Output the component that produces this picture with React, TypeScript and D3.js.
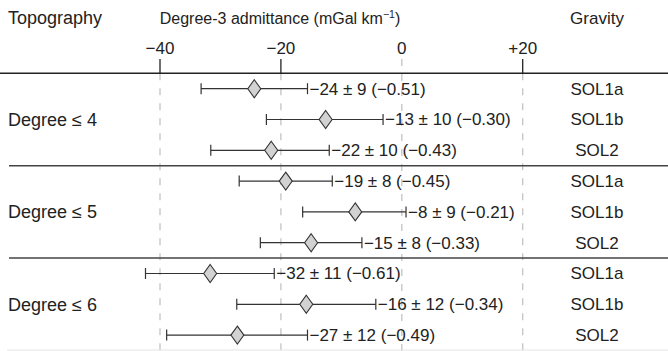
import React from 'react';
import * as d3 from 'd3';

// topography truncation groups and gravity solutions
const groups = ['Degree \u2264 4', 'Degree \u2264 5', 'Degree \u2264 6'];
const solutions = ['SOL1a', 'SOL1b', 'SOL2'];

// positions (mGal/km)
const centers = [-24.4, -12.6, -21.6, -19.2, -7.7, -15.0, -31.7, -15.8, -27.2];
const lows = [-33.2, -22.4, -31.6, -26.9, -16.4, -23.4, -42.4, -27.3, -38.9];
const highs = [-15.6, -3.1, -12.0, -11.5, 0.7, -6.6, -21.1, -4.3, -15.6];

// printed values next to each bar
const admittance = [-24, -13, -22, -19, -8, -15, -32, -16, -27];
const uncertainty = [9, 10, 10, 8, 9, 8, 11, 12, 12];
const correlation = [-0.51, -0.3, -0.43, -0.45, -0.21, -0.33, -0.61, -0.34, -0.49];

const ticks = [-40, -20, 0, 20];

const W = 668, H = 351;
const FONT = '"Liberation Sans", Arial, Helvetica, sans-serif';
const FS = 17;
const minus = (s: string) => s.replace(/-/g, '\u2212');
const fmtTick = (d: number) => (d > 0 ? '+' + d : minus(String(d)));
const fmtLabel = (i: number) =>
	minus(`${admittance[i]}`) + ' \u00b1 ' + uncertainty[i] + ' (' + minus(correlation[i].toFixed(2)) + ')';

export default function App() {
	const x = d3.scaleLinear().domain([-40, 20]).range([160, 522.7]);
	const rows = d3.range(groups.length * solutions.length);
	const y = d3.scaleBand<number>().domain(rows).range([73.3, 350.5]);
	const bw = y.bandwidth();
	const yc = (i: number) => (y(i) as number) + bw / 2;

	const axisY = 73.3;
	const dw = 6.5, dh = 9;

	return (
		<svg width={W} height={H} style={{ position: 'absolute', left: 0, top: 0 }} fontFamily={FONT}>
			<rect width={W} height={H} fill="#fff" />

			{/* headers */}
			<text x={8} y={24} fontSize={18} fill="#222">Topography</text>
			<text x={280} y={24} fontSize={16} fill="#222" textAnchor="middle">
				Degree-3 admittance (mGal km
				<tspan fontSize={10.5} dy={-6.5}>{'\u22121'}</tspan>
				<tspan dy={6.5}>)</tspan>
			</text>
			<text x={597} y={24} fontSize={FS} fill="#222" textAnchor="middle">Gravity</text>

			{/* grid */}
			{ticks.map(t => (
				<line key={'g' + t} x1={x(t)} x2={x(t)} y1={t === 0 ? 59 : axisY} y2={H}
					stroke="#c4c4c4" strokeWidth={1.3} strokeDasharray="7,8" />
			))}

			{/* axis */}
			<line x1={0} x2={W} y1={axisY} y2={axisY} stroke="#222" strokeWidth={1.5} />
			{ticks.filter(t => t !== 0).map(t => (
				<line key={'t' + t} x1={x(t)} x2={x(t)} y1={59} y2={axisY} stroke="#222" strokeWidth={1.3} />
			))}
			{ticks.map(t => (
				<text key={'l' + t} x={x(t)} y={54} fontSize={FS} fill="#222" textAnchor="middle">{fmtTick(t)}</text>
			))}

			{/* group separators */}
			{groups.slice(1).map((g, gi) => {
				const yy = y((gi + 1) * solutions.length) as number;
				return <line key={'s' + gi} x1={9} x2={W} y1={yy} y2={yy} stroke="#444" strokeWidth={1.5} />;
			})}
			<line x1={7} x2={W} y1={350} y2={350} stroke="#e4e4e4" strokeWidth={1} />

			{/* group labels */}
			{groups.map((g, gi) => (
				<text key={g} x={8} y={yc(gi * solutions.length + 1)} dy="0.35em" fontSize={18} fill="#222">{g}</text>
			))}

			{/* bars */}
			{rows.map(i => {
				const cy = yc(i);
				const cx = x(centers[i]);
				return (
					<g key={i}>
						<line x1={x(lows[i])} x2={x(highs[i])} y1={cy} y2={cy} stroke="#333" strokeWidth={1.2} />
						<line x1={x(lows[i])} x2={x(lows[i])} y1={cy - 5.5} y2={cy + 5.5} stroke="#333" strokeWidth={1.2} />
						<line x1={x(highs[i])} x2={x(highs[i])} y1={cy - 5.5} y2={cy + 5.5} stroke="#333" strokeWidth={1.2} />
						<path d={`M${cx},${cy - dh}L${cx + dw},${cy}L${cx},${cy + dh}L${cx - dw},${cy}Z`}
							fill="#d2d2d2" stroke="#333" strokeWidth={1.1} />
						<text x={x(highs[i]) + 2} y={cy} dy="0.35em" fontSize={FS} fill="#222">{fmtLabel(i)}</text>
						<text x={597} y={cy} dy="0.35em" fontSize={FS} fill="#222" textAnchor="middle">
							{solutions[i % solutions.length]}
						</text>
					</g>
				);
			})}
		</svg>
	);
}
